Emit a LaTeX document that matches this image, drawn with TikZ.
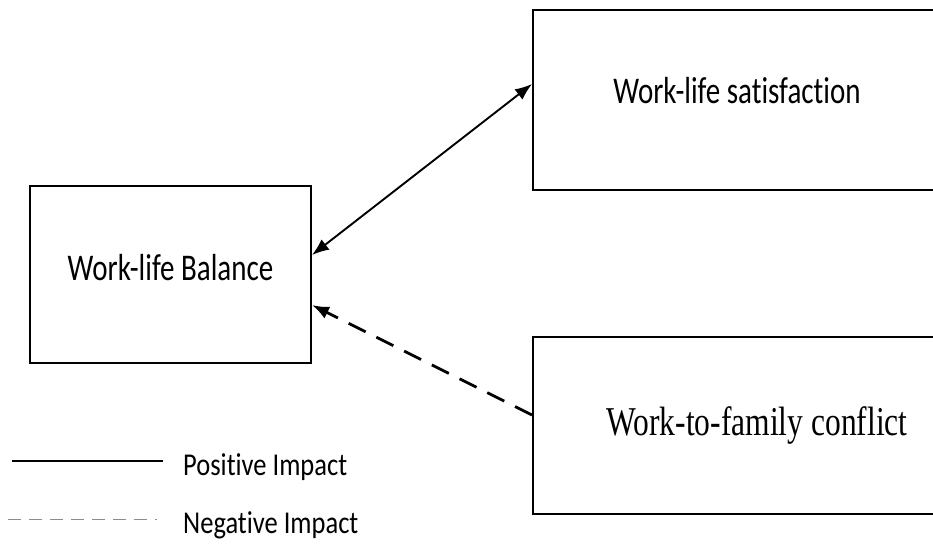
\documentclass[tikz,border=0pt]{standalone}
\usepackage{fontspec}
\newfontfamily\calfont[Ligatures=NoCommon]{Carlito}
\newfontfamily\tmsfont{Liberation Serif}
\usetikzlibrary{arrows.meta,calc}
\tikzset{
  boxnode/.style={draw=black,line width=2pt,inner sep=0pt},
  txt/.style={inner sep=0pt,anchor=base},
  conn/.style={line width=1.9pt,{Latex[length=17pt,width=13pt]}-{Latex[length=17pt,width=13pt]}},
  negconn/.style={line width=2.8pt,dash pattern=on 19pt off 12pt,-{Latex[length=17pt,width=13pt]}},
  legpos/.style={line width=2pt},
  legneg/.style={line width=1pt,draw=black!45,dash pattern=on 13pt off 8pt}
}
\begin{document}
\begin{tikzpicture}[x=1pt,y=-1pt]
\useasboundingbox (0,0) rectangle (933,543);
\clip (0,0) rectangle (933,543);
\node[boxnode,minimum width=281pt,minimum height=177pt] (bal) at (170.5,274.5) {};
\node[boxnode,minimum width=420pt,minimum height=180pt] (sat) at (743,100) {};
\node[boxnode,minimum width=420pt,minimum height=177pt] (conf) at (743,425.5) {};
\node[txt] (baltxt) at (170.5,280) {\calfont\fontsize{29}{34}\selectfont\scalebox{1}[1.3]{Work-life Balance}};
\node[txt] (sattxt) at (737,103) {\calfont\fontsize{29}{34}\selectfont\scalebox{1}[1.3]{Work-life satisfaction}};
\node[txt] (conftxt) at (757,435) {\tmsfont\fontsize{31.5}{36}\selectfont\scalebox{1}[1.3]{Work-to-family conflict}};
\draw[conn] ([yshift=16pt]sat.west) -- ([yshift=19.5pt]bal.east);
\draw[negconn] ([yshift=10.5pt]conf.west) -- ([yshift=-30.5pt]bal.east);
\coordinate (p1) at (12,461);
\coordinate (p2) at (163,461);
\coordinate (n1) at (8,519);
\coordinate (n2) at (157,519);
\draw[legpos] (p1) -- (p2);
\draw[legneg] (n1) -- (n2);
\node[txt,anchor=base west] (postxt) at (183,475) {\calfont\fontsize{26.5}{30}\selectfont\scalebox{1}[1.2]{Positive Impact}};
\node[txt,anchor=base west] (negtxt) at (183,533) {\calfont\fontsize{26.5}{30}\selectfont\scalebox{1}[1.2]{Negative Impact}};
\end{tikzpicture}
\end{document}
